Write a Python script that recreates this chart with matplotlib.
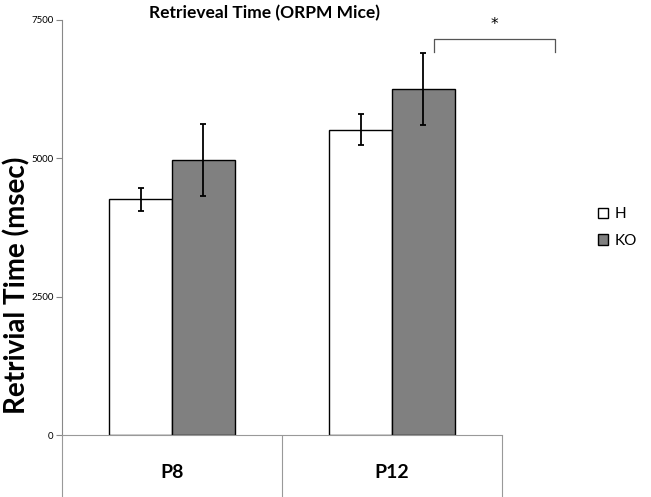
import numpy as np
import matplotlib.pyplot as plt

# Datos
groups = ['P8', 'P12']
series = ['H', 'KO']
h_mean = [4260, 5520]
h_err = [210, 275]
ko_mean = [4970, 6255]
ko_err = [650, 645]

plt.rcParams['font.family'] = ['Lato', 'DejaVu Sans']

fig = plt.figure(figsize=(6.51, 4.97), dpi=100)
ax = fig.add_axes([0.0952, 0.1247, 0.6758, 0.8351])

x = np.arange(len(groups))
w = 0.285
ax.bar(x - w / 2, h_mean, w, yerr=h_err, color='white', edgecolor='black',
       linewidth=1, label=series[0], capsize=2.5,
       error_kw=dict(elinewidth=1.3, capthick=1.3))
ax.bar(x + w / 2, ko_mean, w, yerr=ko_err, color='#808080', edgecolor='black',
       linewidth=1, label=series[1], capsize=2.5,
       error_kw=dict(elinewidth=1.3, capthick=1.3))

# Corchete de significancia
bx0, bx1, by, bh = 1.19, 1.74, 7160, 240
ax.plot([bx0, bx0, bx1, bx1], [by - bh, by, by, by - bh], color='#555555',
        linewidth=0.9, clip_on=False)
ax.text((bx0 + bx1) / 2, 7420, '*', ha='center', va='center', fontsize=11,
        family='DejaVu Sans')

ax.set_ylim(0, 7500)
ax.set_xlim(-0.5, 1.5)
ax.set_yticks([0, 2500, 5000, 7500])
ax.tick_params(axis='y', labelsize=7, length=4, color='#888888', pad=2)

# Divisiones de categoria
ax.set_xticks([-0.5, 0.5, 1.5])
ax.set_xticklabels([])
ax.tick_params(axis='x', which='major', length=45, color='#999999', width=0.8)
ax.set_xticks(x, minor=True)
ax.set_xticklabels(groups, minor=True, fontsize=14, fontweight='bold')
ax.tick_params(axis='x', which='minor', length=0, pad=21)

for s in ['top', 'right']:
    ax.spines[s].set_visible(False)
ax.spines['left'].set_color('#888888')
ax.spines['bottom'].set_color('#999999')

ax.set_ylabel('Retrivial Time (msec)', fontsize=20, fontweight='bold')
ax.yaxis.set_label_coords(-0.072, 0.36)
ax.set_title('Retrieveal Time (ORPM Mice)', fontsize=12.5, fontweight='bold',
             x=0.46, y=1.0, pad=0)
ax.title.set_position((0.46, 1.005))

ax.legend(loc='center left', bbox_to_anchor=(1.2, 0.5), frameon=False,
          fontsize=11, handlelength=0.7, handleheight=0.7, handletextpad=0.4,
          labelspacing=0.8, borderpad=0)

fig.savefig('out.png', dpi=100)
